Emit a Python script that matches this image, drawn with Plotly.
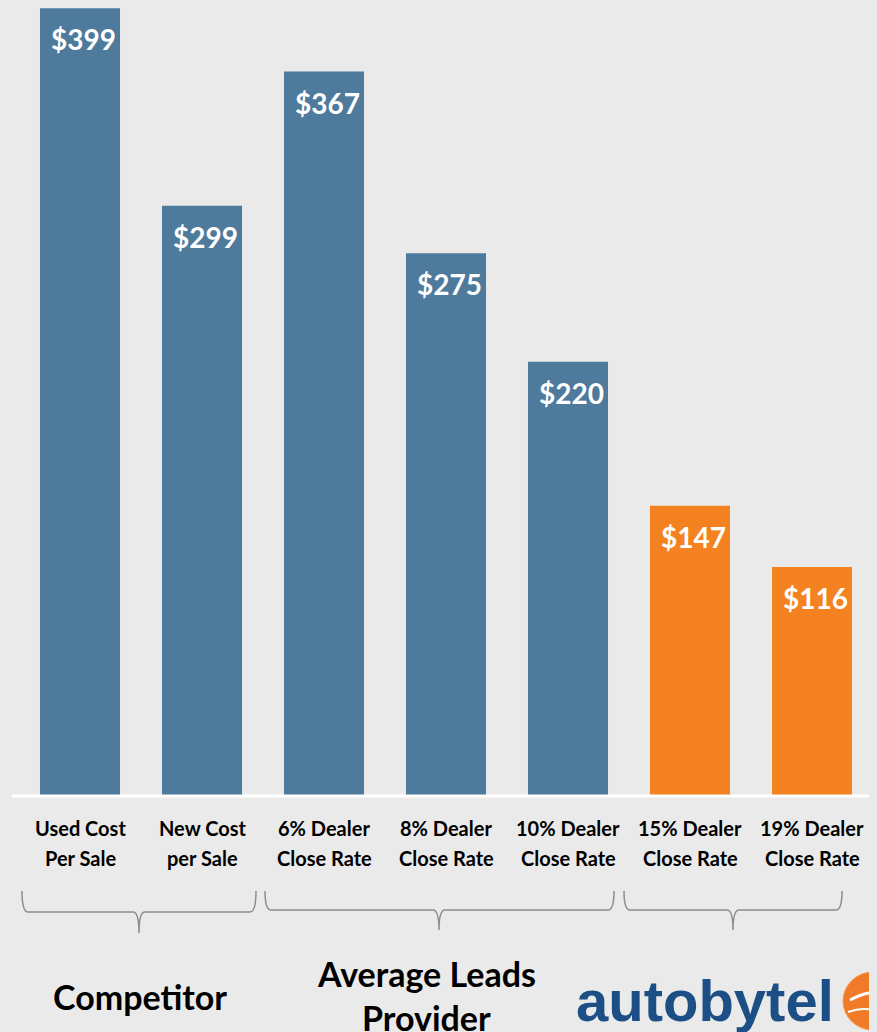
import plotly.graph_objects as go

categories = ["Used Cost<br>Per Sale", "New Cost<br>per Sale", "6% Dealer<br>Close Rate",
              "8% Dealer<br>Close Rate", "10% Dealer<br>Close Rate", "15% Dealer<br>Close Rate",
              "19% Dealer<br>Close Rate"]
values = [399, 299, 367, 275, 220, 147, 116]
labels = ["$399", "$299", "$367", "$275", "$220", "$147", "$116"]
groups = ["Competitor", "Average Leads<br>Provider"]

BLUE = "#4E7A9C"
ORANGE = "#F58220"
BG = "#EAEAEA"
colors = [BLUE] * 5 + [ORANGE] * 2

OFF = 8  # page body margin
W, H = 877 - OFF, 1032 - OFF
L, R, T, B = 19 - OFF, 4, 0, 236
PW, PH = W - L - R, H - T - B

def px(x):  # page pixel x -> paper
    return (x - OFF - L) / PW

def py(y):  # page pixel y -> paper
    return (T + PH - (y - OFF)) / PH

fig = go.Figure()
fig.add_trace(go.Bar(x=list(range(len(categories))), y=values, marker=dict(color=colors, line=dict(width=0)),
                     hoverinfo="skip"))

annotations = []
for i, (v, t) in enumerate(zip(values, labels)):
    annotations.append(dict(x=i, y=v, xref="x", yref="y", text=t, showarrow=False,
                            xanchor="center", yanchor="top", yshift=-12, xshift=3,
                            font=dict(family="Lato", size=28, color="white", weight="bold")))
# category labels, two lines each
for i, c in enumerate(categories):
    for j, line in enumerate(c.split("<br>")):
        annotations.append(dict(x=i, y=py(828 + 30 * j), xref="x", yref="paper", text=line, showarrow=False,
                                xanchor="center", yanchor="middle",
                                font=dict(family="Lato", size=20, color="black", weight="bold")))

annotations.append(dict(x=px(140), y=py(996), xref="paper", yref="paper", text=groups[0], showarrow=False,
                        xanchor="center", yanchor="middle",
                        font=dict(family="Lato", size=34, color="black", weight="bold")))
for j, line in enumerate(groups[1].split("<br>")):
    annotations.append(dict(x=px(426), y=py(973 + 45 * j), xref="paper", yref="paper", text=line,
                            showarrow=False, xanchor="center", yanchor="middle",
                            font=dict(family="Lato", size=34, color="black", weight="bold")))
annotations.append(dict(x=px(705), y=py(1000), xref="paper", yref="paper", text="autobytel", showarrow=False,
                        xanchor="center", yanchor="middle",
                        font=dict(family="Liberation Sans", size=58, color="#1B4F85", weight="bold")))

shapes = []
# axis line
shapes.append(dict(type="line", xref="paper", yref="paper", x0=px(12), x1=px(877), y0=py(796), y1=py(796),
                   line=dict(color="white", width=3)))

def brace(x0, x1, xm, ytop, ymid, ytip):
    r = 6
    p = (f"M {px(x0)},{py(ytop)} Q {px(x0)},{py(ymid)} {px(x0 + r)},{py(ymid)} "
         f"L {px(xm - r)},{py(ymid)} Q {px(xm)},{py(ymid)} {px(xm)},{py(ytip)} "
         f"Q {px(xm)},{py(ymid)} {px(xm + r)},{py(ymid)} "
         f"L {px(x1 - r)},{py(ymid)} Q {px(x1)},{py(ymid)} {px(x1)},{py(ytop)}")
    return dict(type="path", xref="paper", yref="paper", path=p, line=dict(color="#8C8C8C", width=1.5))

shapes.append(brace(22, 256, 139, 891, 912, 933))
shapes.append(brace(265, 614, 439, 891, 910, 930))
shapes.append(brace(624, 842, 733, 891, 910, 930))

# globe logo
shapes.append(dict(type="circle", xref="paper", yref="paper", x0=px(843), x1=px(903), y0=py(1030), y1=py(972),
                   fillcolor="#F07A28", line=dict(color="#F59A50", width=1)))
shapes.append(dict(type="path", xref="paper", yref="paper",
                   path=f"M {px(850)},{py(1000)} Q {px(870)},{py(990)} {px(877)},{py(994)}",
                   line=dict(color="white", width=3)))
shapes.append(dict(type="path", xref="paper", yref="paper",
                   path=f"M {px(848)},{py(1012)} Q {px(866)},{py(1006)} {px(877)},{py(1012)}",
                   line=dict(color="white", width=2)))

fig.update_layout(
    width=W, height=H, margin=dict(l=L, r=R, t=T, b=B),
    paper_bgcolor=BG, plot_bgcolor=BG, showlegend=False, bargap=0.344,
    xaxis=dict(range=[-0.5, 6.5], showticklabels=False, showgrid=False, zeroline=False, showline=False,
               fixedrange=True),
    yaxis=dict(range=[0, (796 - OFF) / 1.974], showticklabels=False, showgrid=False, zeroline=False,
               showline=False, fixedrange=True),
    annotations=annotations, shapes=shapes,
)

fig.write_html("out.html", post_script=f"document.body.style.background='{BG}';"
                                       "document.documentElement.style.background='" + BG + "';")
